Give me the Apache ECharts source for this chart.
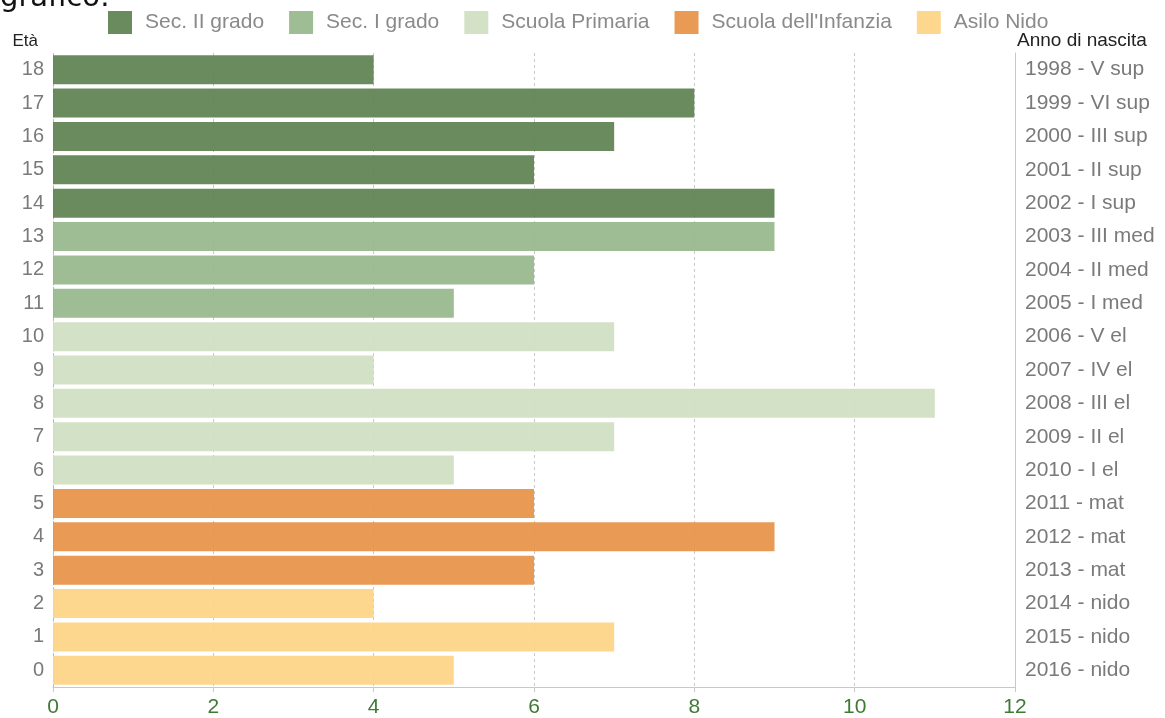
<!DOCTYPE html>
<html>
<head>
<meta charset="utf-8">
<script src="https://cdn.jsdelivr.net/npm/echarts@6/dist/echarts.min.js"></script>
<style>
  html, body { margin: 0; padding: 0; background: #fff; }
  #chart { width: 1165px; height: 718px; }
</style>
</head>
<body>
<div id="chart"></div>
<script>
// Età (bottom to top) and matching birth year / school class
const ages = ['0','1','2','3','4','5','6','7','8','9','10','11','12','13','14','15','16','17','18'];
const birthLabels = [
  '2016 - nido','2015 - nido','2014 - nido','2013 - mat','2012 - mat','2011 - mat',
  '2010 - I el','2009 - II el','2008 - III el','2007 - IV el','2006 - V el',
  '2005 - I med','2004 - II med','2003 - III med',
  '2002 - I sup','2001 - II sup','2000 - III sup','1999 - VI sup','1998 - V sup'
];
// Number of pupils per age
const counts = [5, 7, 4, 6, 9, 6, 5, 7, 11, 4, 7, 5, 6, 9, 9, 6, 7, 8, 4];
// School level of each age group
const levelNames = ['Sec. II grado', 'Sec. I grado', 'Scuola Primaria', "Scuola dell'Infanzia", 'Asilo Nido'];
const levelOfAge = [4, 4, 4, 3, 3, 3, 2, 2, 2, 2, 2, 1, 1, 1, 0, 0, 0, 0, 0];
const levelColors = ['#5d814f', '#96b78c', '#cfdec1', '#e79146', '#fed484'];
const xTicks = [0, 2, 4, 6, 8, 10, 12];

const font = '"Liberation Sans", Arial, sans-serif';

const series = levelNames.map((name, li) => ({
  name: name,
  type: 'bar',
  stack: 'all',
  barWidth: 29,
  itemStyle: { color: levelColors[li], opacity: 0.92 },
  emphasis: { disabled: true },
  data: counts.map((v, i) => (levelOfAge[i] === li ? v : '-'))
}));

const chart = echarts.init(document.getElementById('chart'), null, { renderer: 'canvas' });
chart.setOption({
  animation: false,
  backgroundColor: '#fff',
  textStyle: { fontFamily: font },
  graphic: [{
    type: 'text',
    left: 0,
    top: -16,
    style: {
      text: 'grafico:',
      fontFamily: '"DejaVu Sans", Verdana, sans-serif',
      fontSize: 29,
      fill: '#111'
    }
  }],
  legend: {
    left: 108,
    top: 11,
    padding: 0,
    itemWidth: 24,
    itemHeight: 23,
    itemGap: 25,
    icon: 'rect',
    selectedMode: false,
    data: levelNames,
    textStyle: { fontFamily: font, fontSize: 21, color: '#8a8a8a', padding: [0, 0, 0, 8] }
  },
  grid: { left: 53, right: 150, top: 53, bottom: 31, containLabel: false },
  xAxis: {
    type: 'value',
    min: 0,
    max: 12,
    interval: 2,
    axisLine: { show: true, lineStyle: { color: '#c8c8c8', width: 1 } },
    axisTick: { show: true, length: 5, lineStyle: { color: '#c8c8c8' } },
    axisLabel: {
      fontFamily: font, fontSize: 21, color: '#3f7a35', margin: 10,
      formatter: v => (xTicks.includes(v) ? String(v) : '')
    },
    splitLine: { show: true, lineStyle: { color: '#c8c8c8', type: [3, 3], width: 1 } }
  },
  yAxis: [{
    type: 'category',
    data: ages,
    position: 'left',
    name: 'Età',
    nameLocation: 'end',
    nameGap: 3,
    nameTextStyle: { fontFamily: font, fontSize: 17, color: '#222', align: 'right', padding: [0, 15, 0, 0] },
    axisLine: { show: true, lineStyle: { color: '#b8b8b8', type: [3, 3] } },
    axisTick: { show: false },
    axisLabel: { fontFamily: font, fontSize: 20, color: '#7a7a7a', margin: 9 }
  }, {
    type: 'category',
    data: birthLabels,
    position: 'right',
    name: 'Anno di nascita',
    nameLocation: 'end',
    nameGap: 3,
    nameTextStyle: { fontFamily: font, fontSize: 19, color: '#222', align: 'left', padding: [0, 0, 0, 2] },
    axisLine: { show: true, lineStyle: { color: '#c8c8c8' } },
    axisTick: { show: false },
    axisLabel: { fontFamily: font, fontSize: 21, color: '#7a7a7a', margin: 10, align: 'left' }
  }],
  series: series
});
</script>
</body>
</html>
